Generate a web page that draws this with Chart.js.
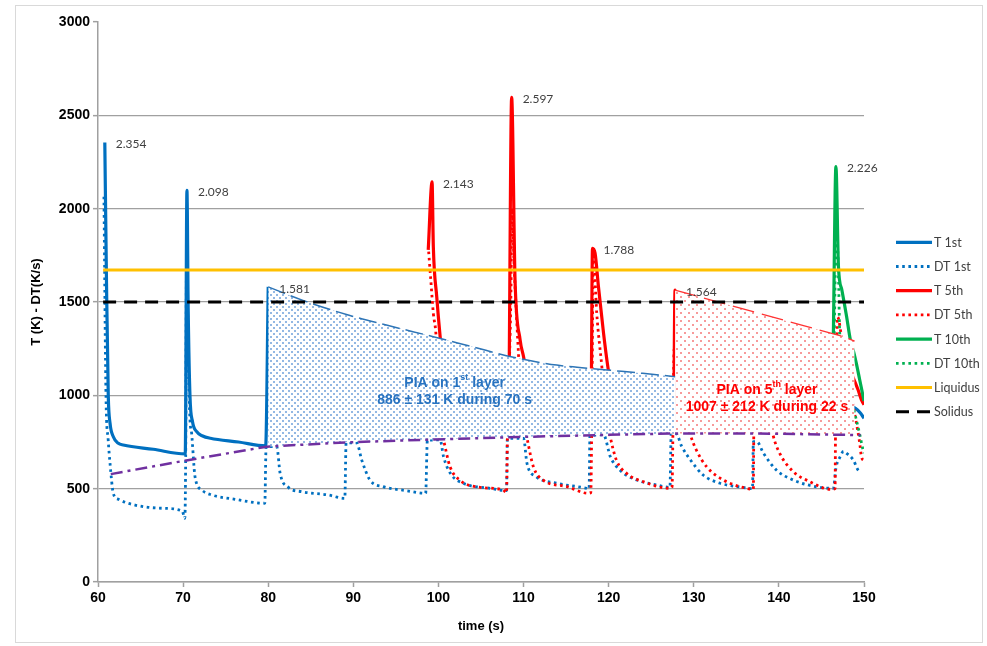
<!DOCTYPE html>
<html>
<head>
<meta charset="utf-8">
<script src="https://cdn.jsdelivr.net/npm/chart.js@4.4.1/dist/chart.umd.min.js"></script>
<style>
  html, body { margin: 0; padding: 0; background: #fff; }
  #wrap { width: 987px; height: 646px; }
</style>
</head>
<body>
<div id="wrap"><canvas id="chart" width="987" height="646"></canvas></div>
<script>
// [time (s), value] pairs
const t1st = [[60.8, 2354], [61.0, 1600], [61.21, 993], [61.41, 852], [61.8, 778], [62.39, 743], [62.97, 734],
  [66.5, 711], [70.25, 686], [70.45, 2098], [70.6, 1450], [70.81, 993], [71.1, 860], [71.6, 805], [72.3, 782],
  [73.2, 770], [76.5, 750], [79.7, 729], [80.0, 1581], [100, null], [127.8, 1100], [135, 1040], [142, 985],
  [147, 955], [149.0, 930], [149.6, 904], [150, 877]];

const dt1st = [[60.7, 2064], [60.94, 993], [61.2, 760], [61.41, 637], [61.8, 475], [62.39, 443], [64.35, 412],
  [67.5, 395], [69.9, 380], [70.2, 341], [70.3, 660], [70.42, 1850], [70.6, 1200], [70.81, 868], [71.0, 797],
  [71.4, 564], [72.2, 493], [73.4, 466], [76.1, 443], [79.6, 422], [79.75, 725], [81.0, 725], [81.4, 582],
  [82.36, 507], [83.9, 484], [87.06, 466], [89.0, 448], [89.15, 745], [90.4, 745], [90.98, 654], [91.96, 546],
  [93.5, 511], [96.27, 489], [98.5, 475], [98.7, 760], [100.2, 761], [100.6, 671], [101.4, 582], [102.9, 529],
  [106.06, 502], [108.0, 489], [108.1, 768], [110.0, 770], [110.4, 636], [111.5, 564], [113.9, 529],
  [117.4, 502], [117.7, 498], [117.8, 785], [119.4, 788], [120.2, 671], [121.3, 600], [123.3, 546],
  [125.6, 520], [127.2, 507], [127.35, 795], [127.9, 795], [128.6, 725], [129.6, 654], [131.1, 573],
  [133.1, 529], [135.8, 507], [136.9, 500], [137.0, 752], [137.4, 752], [138.2, 689], [139.7, 600],
  [141.7, 546], [144.8, 507], [146.4, 502], [146.7, 610], [147.2, 671], [147.6, 700], [147.96, 689],
  [148.74, 654], [149.3, 600], [149.6, 590]];

const t5th = [[98.8, 1779], [99.25, 2143], [99.4, 1796], [99.8, 1528], [100.2, 1314], [100.8, 1050], [102, 900],
  [104, 840], [108.2, 795], [108.6, 2597], [109.0, 1618], [109.6, 1296], [110.0, 1207], [110.8, 1000],
  [112, 880], [114, 830], [117.9, 795], [118.1, 1788], [118.4, 1762], [118.8, 1582], [119.4, 1332],
  [119.96, 1136], [120.8, 950], [122, 860], [124, 820], [127.6, 805], [127.8, 1564], [128.2, 1150],
  [129, 930], [131, 860], [137.0, 810], [137.3, 1400], [137.8, 1150], [139, 930], [141, 860], [146.5, 815],
  [146.8, 1300], [147.3, 1250], [148.5, 1120], [149.3, 1030], [149.7, 975], [150, 950]];

const dt5th = [[98.85, 1770], [99.1, 1618], [99.4, 1439], [99.7, 1332], [100.1, 1000], [100.4, 800],
  [100.6, 761], [101.36, 618], [102.5, 546], [104.9, 507], [107.6, 493], [108.0, 478], [108.1, 770],
  [108.5, 1500], [108.65, 2000], [108.9, 1689], [109.4, 1225], [109.8, 900], [110.4, 772], [111.15, 618],
  [112.3, 546], [115.1, 511], [117.6, 475], [117.9, 478], [118.0, 790], [118.2, 1761], [118.6, 1439],
  [119.2, 1153], [119.7, 900], [120.15, 785], [120.9, 654], [122.1, 582], [124.1, 537], [127.2, 502],
  [127.45, 510], [127.55, 800], [127.7, 1250], [128.5, 1000], [129.6, 790], [130.3, 707], [131.5, 618],
  [133.5, 546], [136.2, 502], [137.0, 497], [137.05, 790], [137.5, 1200], [138.5, 1000], [139.3, 790],
  [140.1, 689], [141.7, 591], [143.65, 537], [146.0, 497], [146.6, 500], [146.65, 790], [146.9, 1420],
  [147.4, 1300], [148.5, 1000], [149.5, 743], [149.7, 671], [150, 650]];

const t10th = [[146.4, 1323], [146.7, 2226], [147.0, 1689], [147.4, 1564], [147.96, 1421], [148.4, 1296],
  [148.8, 1230], [149.1, 1171], [149.5, 1082], [149.9, 993], [150, 970]];

const dt10th = [[146.5, 1330], [146.75, 1900], [147.0, 1650], [147.15, 1330], [148.6, 950], [149.55, 780],
  [149.75, 734], [150, 690]];

const liquidus = [[60.6, 1672], [150, 1672]];
const solidus = [[60.6, 1500], [150, 1500]];

// minimum-temperature line (purple dash-dot) and PIA upper bounds
const tMin = [[61.5, 578], [70.2, 650], [79.8, 725], [89.2, 748], [99, 763], [108, 775], [118.6, 787],
  [128.4, 796], [137.4, 796], [149.6, 787]];
const pia1st = [[80.0, 1581], [84, 1510], [89.4, 1430], [94, 1375], [99.4, 1314], [104, 1260], [108.8, 1204],
  [113.9, 1162], [119.8, 1136], [124, 1118], [127.8, 1100]];
const pia5th = [[127.8, 1564], [133, 1498], [138, 1435], [143, 1372], [147.6, 1314], [148.9, 1290]];

// peak annotations
const peakX = [60.8, 70.45, 80.0, 99.25, 108.6, 118.1, 127.8, 146.7];
const peakY = [2354, 2098, 1581, 2143, 2597, 1788, 1564, 2226];

const BLUE = '#0070c0', RED = '#ff0000', GREEN = '#00b050';
const SANS = "'Liberation Sans', Arial, sans-serif";
const LABEL_FONT = "Lato, 'Open Sans', sans-serif";

function pts(a) { return a.map(p => ({ x: p[0], y: p[1] })); }

function solidLine(label, data, color, order) {
  return { label, data: pts(data), borderColor: color, backgroundColor: color, borderWidth: 3.2,
    order, showLine: true, pointRadius: 0, cubicInterpolationMode: 'monotone', fill: false };
}
function dottedLine(label, data, color, order) {
  return { label, data: pts(data), borderColor: color, backgroundColor: color, borderWidth: 2.8,
    borderDash: [2.6, 3.6], order, showLine: true, pointRadius: 0,
    cubicInterpolationMode: 'monotone', fill: false };
}

function dotPattern(bg, dot, step, size) {
  const c = document.createElement('canvas');
  c.width = step; c.height = step;
  const g = c.getContext('2d');
  g.fillStyle = bg; g.fillRect(0, 0, step, step);
  g.fillStyle = dot;
  g.fillRect(0, 0, size, size);
  g.fillRect(step / 2, step / 2, size, size);
  return g.createPattern(c, 'repeat');
}

const MIN_INDEX = 8;
const datasets = [
  solidLine('T 1st', t1st, BLUE, 5),
  dottedLine('DT 1st', dt1st, BLUE, 5),
  solidLine('T 5th', t5th, RED, 4),
  dottedLine('DT 5th', dt5th, RED, 4),
  solidLine('T 10th', t10th, GREEN, 3),
  dottedLine('DT 10th', dt10th, GREEN, 3),
  { label: 'Liquidus', data: pts(liquidus), borderColor: '#ffc000', backgroundColor: '#ffc000', borderWidth: 3,
    order: 0, showLine: true, pointRadius: 0, fill: false },
  { label: 'Solidus', data: pts(solidus), borderColor: '#000', backgroundColor: '#000', borderWidth: 3,
    borderDash: [13, 8], order: 0, showLine: true, pointRadius: 0, fill: false },
  { label: '', data: pts(tMin), borderColor: '#7030a0', borderWidth: 2.5, borderDash: [12, 5, 3, 5],
    order: 1, showLine: true, pointRadius: 0, fill: false },
  { label: '', data: pts(pia1st), borderColor: '#2e75b6', borderWidth: 1.5, borderDash: [18, 6],
    backgroundColor: dotPattern('#ffffff', '#93b8e3', 6, 2), order: 2, showLine: true, pointRadius: 0,
    cubicInterpolationMode: 'monotone', fill: { target: MIN_INDEX } },
  { label: '', data: pts(pia5th), borderColor: '#ff3333', borderWidth: 1.3, borderDash: [22, 8],
    backgroundColor: dotPattern('#ffffff', '#f79a9a', 8, 2), order: 2, showLine: true, pointRadius: 0,
    fill: { target: MIN_INDEX } }
];

const legendCount = 8;

const decorations = {
  id: 'decorations',
  beforeDraw(chart) {
    const ctx = chart.ctx;
    ctx.save();
    ctx.fillStyle = '#fff';
    ctx.fillRect(0, 0, chart.width, chart.height);
    ctx.strokeStyle = '#d9d9d9';
    ctx.lineWidth = 1;
    ctx.strokeRect(15.5, 5.5, 967, 637);
    ctx.restore();
  },
  afterDatasetsDraw(chart) {
    const ctx = chart.ctx, xs = chart.scales.x, ys = chart.scales.y;
    ctx.save();
    // peak labels
    ctx.font = '12px ' + LABEL_FONT;
    ctx.fillStyle = '#404040';
    ctx.textBaseline = 'middle';
    ctx.textAlign = 'left';
    peakX.forEach((x, i) => {
      const txt = (peakY[i] / 1000).toFixed(3);
      ctx.fillText(txt, xs.getPixelForValue(x) + 11, ys.getPixelForValue(peakY[i]) + 2);
    });
    // PIA notes
    drawNote(ctx, ['PIA on 1', 'st', ' layer'], '886 \u00b1 131 K during 70 s', '#2873c0',
      xs.getPixelForValue(101.9), ys.getPixelForValue(1066), ys.getPixelForValue(975));
    drawNote(ctx, ['PIA on 5', 'th', ' layer'], '1007 \u00b1 212 K during 22 s', '#ff0000',
      xs.getPixelForValue(138.6), ys.getPixelForValue(1029), ys.getPixelForValue(937));
    ctx.restore();
  },
  afterDraw(chart) {
    const ctx = chart.ctx;
    ctx.save();
    for (let i = 0; i < legendCount; i++) {
      const ds = chart.data.datasets[i];
      const y = 242.3 + i * 24.2;
      ctx.beginPath();
      ctx.strokeStyle = ds.borderColor;
      ctx.lineWidth = ds.borderWidth;
      ctx.lineCap = ds.borderCapStyle || 'butt';
      ctx.setLineDash(ds.borderDash || []);
      ctx.moveTo(896, y);
      ctx.lineTo(932, y);
      ctx.stroke();
      ctx.setLineDash([]);
      ctx.font = '12.5px ' + LABEL_FONT;
      ctx.fillStyle = '#404040';
      ctx.textBaseline = 'middle';
      ctx.textAlign = 'left';
      ctx.fillText(ds.label, 934, y + 0.5);
    }
    ctx.restore();
  }
};

function drawNote(ctx, parts, line2, color, cx, y1, y2) {
  const big = 'bold 14px ' + SANS, small = 'bold 9px ' + SANS;
  ctx.fillStyle = color;
  ctx.textBaseline = 'middle';
  ctx.textAlign = 'left';
  ctx.font = big; const w1 = ctx.measureText(parts[0]).width; const w3 = ctx.measureText(parts[2]).width;
  ctx.font = small; const w2 = ctx.measureText(parts[1]).width;
  let x = cx - (w1 + w2 + w3) / 2;
  ctx.font = big; ctx.fillText(parts[0], x, y1); x += w1;
  ctx.font = small; ctx.fillText(parts[1], x, y1 - 5); x += w2;
  ctx.font = big; ctx.fillText(parts[2], x, y1);
  ctx.textAlign = 'center';
  ctx.fillText(line2, cx, y2);
}

const tickFont = { family: SANS, size: 14, weight: 'bold' };

new Chart(document.getElementById('chart'), {
  type: 'scatter',
  data: { datasets },
  options: {
    responsive: false,
    animation: false,
    layout: { padding: { left: 15, right: 123, top: 22, bottom: 12 } },
    plugins: { legend: { display: false }, tooltip: { enabled: false } },
    elements: { line: { tension: 0 } },
    scales: {
      x: {
        type: 'linear', min: 60, max: 150,
        ticks: { stepSize: 10, color: '#000', font: tickFont, padding: 3, maxRotation: 0,
          callback: v => String(v) },
        grid: { drawOnChartArea: false, drawTicks: true, tickLength: 5, tickColor: '#a0a0a0', tickWidth: 1.5 },
        border: { color: '#a0a0a0', width: 1.5 },
        title: { display: true, text: 'time (s)', color: '#000', font: { family: SANS, size: 13, weight: 'bold' },
          padding: { top: 0, bottom: 0 } },
        afterFit(s) { s.height = 52; }
      },
      y: {
        min: 0, max: 3000,
        ticks: { stepSize: 500, color: '#000', font: tickFont, padding: 3, callback: v => String(v) },
        grid: {
          color: c => (c.tick && c.tick.value === 3000) ? 'rgba(0,0,0,0)' : '#a0a0a0',
          lineWidth: 1.3, tickLength: 5, tickColor: '#a0a0a0', tickWidth: 1.5
        },
        border: { color: '#a0a0a0', width: 1.5 },
        title: { display: true, text: 'T (K) - DT(K/s)', color: '#000',
          font: { family: SANS, size: 13, weight: 'bold' }, padding: { top: 14, bottom: 0 } },
        afterFit(s) { s.width = 83; }
      }
    }
  },
  plugins: [decorations]
});
</script>
</body>
</html>
